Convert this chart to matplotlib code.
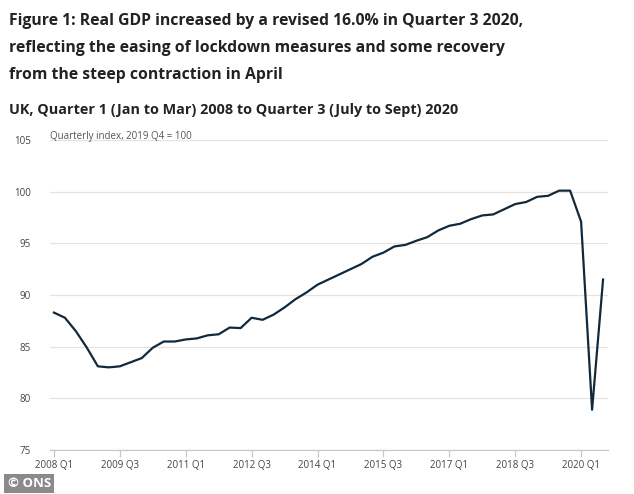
import matplotlib.pyplot as plt

# quarters 2008 Q1 .. 2020 Q3
quarters = [f"{y} Q{q}" for y in range(2008, 2021) for q in range(1, 5)][:51]

gdp_index = [88.3, 87.8, 86.5, 84.9, 83.1, 83.0, 83.1, 83.5, 83.9, 84.9,
             85.5, 85.5, 85.7, 85.8, 86.1, 86.2, 86.85, 86.8, 87.8, 87.6,
             88.1, 88.8, 89.6, 90.25, 91.0, 91.5, 92.0, 92.5, 93.0, 93.7,
             94.1, 94.7, 94.85, 95.25, 95.6, 96.25, 96.7, 96.9, 97.35, 97.7,
             97.8, 98.3, 98.8, 99.0, 99.5, 99.6, 100.1, 100.1, 97.1, 78.9,
             91.5]

y_ticks = [75, 80, 85, 90, 95, 100, 105]

plt.rcParams['font.family'] = ['Open Sans', 'DejaVu Sans']

fig = plt.figure(figsize=(6.34, 4.94), dpi=100)
ax = fig.add_axes([0.079, 0.089, 0.88, 0.6276])

x = list(range(len(gdp_index)))
ax.plot(x, gdp_index, color="#10293c", linewidth=1.6, zorder=3)

ax.set_xlim(-0.35, 50.45)
ax.set_ylim(75, 105)
ax.set_yticks(y_ticks)
ax.set_yticklabels([str(v) for v in y_ticks])
ax.set_xticks(x[::6])
ax.set_xticklabels(quarters[::6])

ax.grid(axis="y", color="#e3e3e3", linewidth=0.9)
ax.set_axisbelow(True)
for s in ["top", "right", "left"]:
    ax.spines[s].set_visible(False)
ax.spines["bottom"].set_color("#c8c8c8")
ax.spines["bottom"].set_linewidth(0.9)
ax.tick_params(axis="x", colors="#c8c8c8", length=5, width=0.9, pad=2,
               labelcolor="#444444", labelsize=7)
ax.tick_params(axis="y", length=0, pad=14, labelcolor="#444444", labelsize=7)

ax.text(0.0, 0.995, "Quarterly index, 2019 Q4 = 100", transform=ax.transAxes,
        fontsize=7, color="#555555", va="bottom", ha="left")

fig.text(0.014, 0.958, "Figure 1: Real GDP increased by a revised 16.0% in Quarter 3 2020,",
         fontsize=11.3, fontweight="bold", color="#222222", va="center")
fig.text(0.014, 0.903, "reflecting the easing of lockdown measures and some recovery",
         fontsize=11.3, fontweight="bold", color="#222222", va="center")
fig.text(0.014, 0.848, "from the steep contraction in April",
         fontsize=11.3, fontweight="bold", color="#222222", va="center")
fig.text(0.014, 0.777, "UK, Quarter 1 (Jan to Mar) 2008 to Quarter 3 (July to Sept) 2020",
         fontsize=10.4, fontweight="bold", color="#222222", va="center")

fig.text(0.012, 0.008, "\u00a9 ONS", fontsize=9.5, fontweight="bold", color="white",
         va="bottom", ha="left",
         bbox=dict(boxstyle="square,pad=0.25", facecolor="#8a8a8a", edgecolor="none"))

fig.savefig("out.png", dpi=100)
